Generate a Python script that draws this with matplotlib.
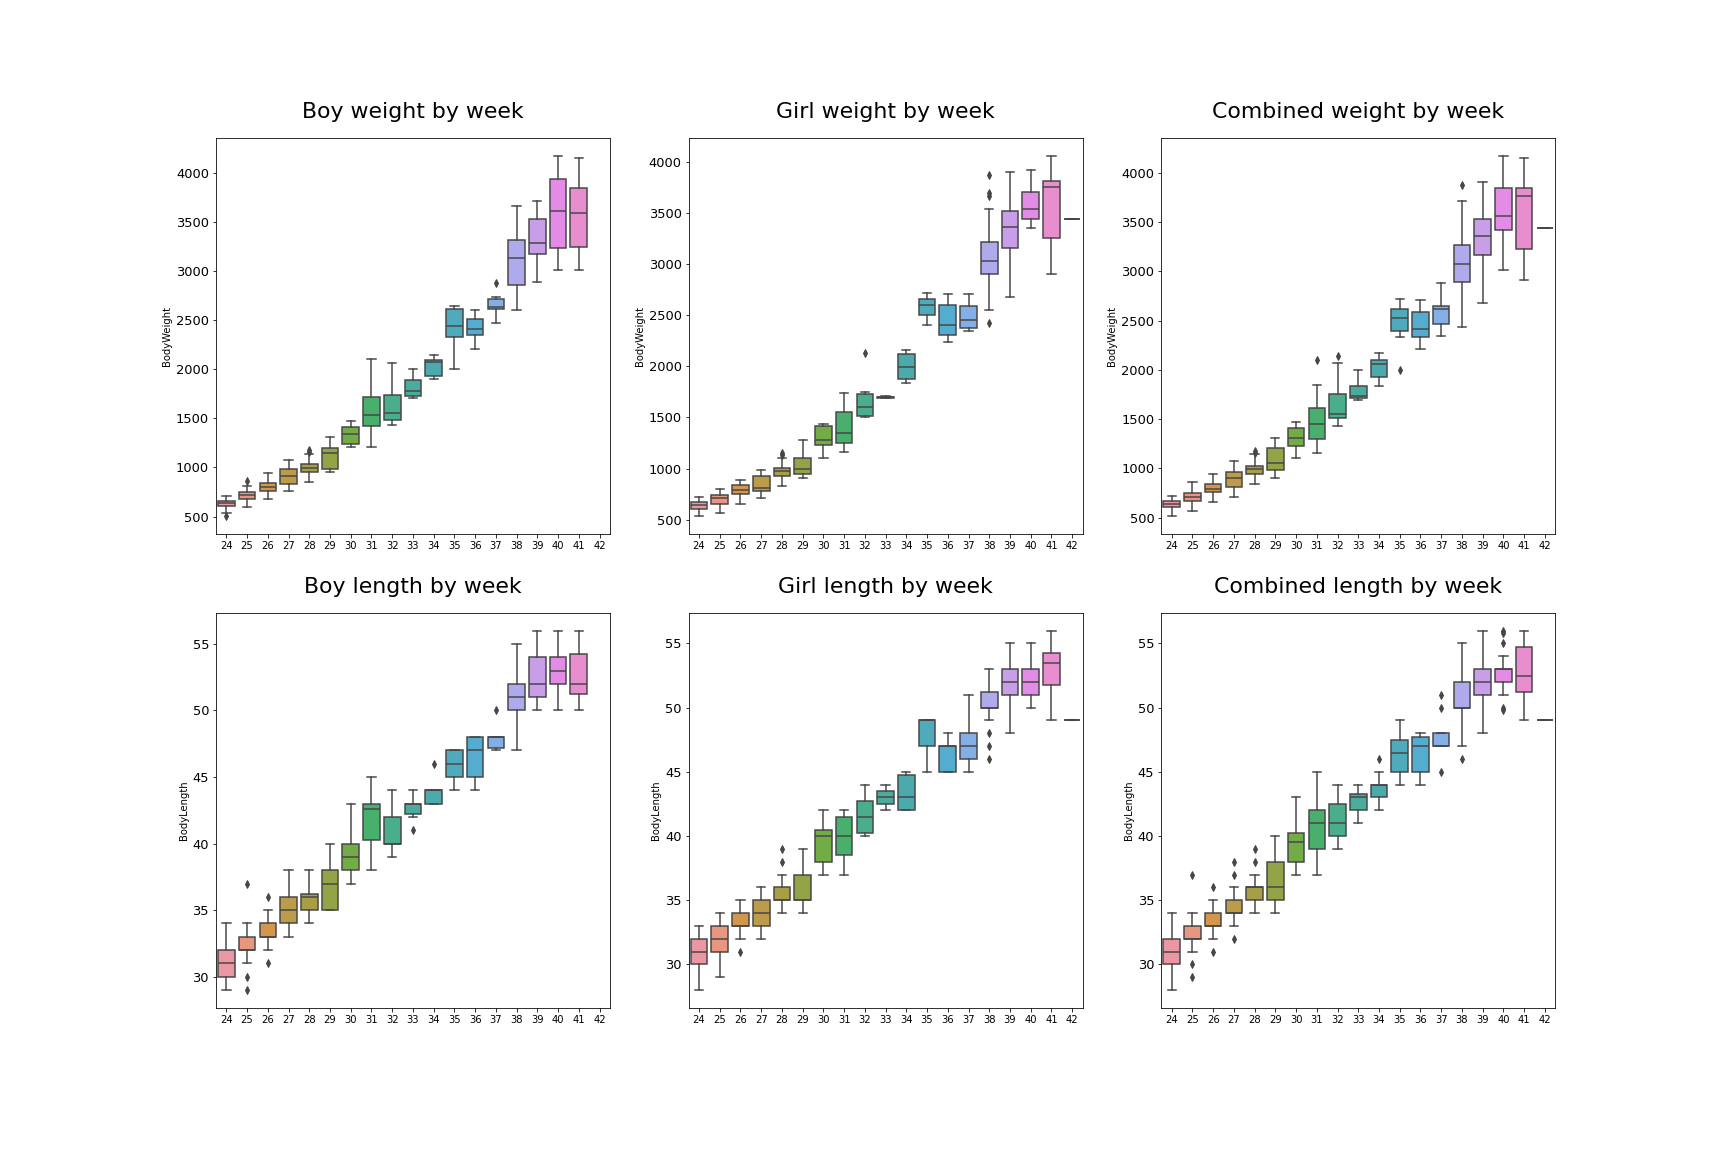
import colorsys
import matplotlib
matplotlib.use('Agg')
import matplotlib.pyplot as plt
import seaborn as sns

weeks = list(range(24, 43))

# (whislo, q1, median, q3, whishi) per week, None = no data
boy_weight = [
    (534, 611, 635, 662, 709), (595, 679, 723, 753, 814), (682, 760, 801, 845, 943),
    (757, 834, 915, 983, 1078), (855, 956, 993, 1034, 1142), (956, 983, 1152, 1203, 1311),
    (1209, 1240, 1345, 1409, 1473), (1209, 1422, 1534, 1716, 2101), (1432, 1480, 1554, 1743, 2067),
    (1706, 1723, 1777, 1895, 1999), (1899, 1936, 2071, 2091, 2142), (2007, 2331, 2436, 2615, 2648),
    (2209, 2351, 2412, 2513, 2608), (2473, 2615, 2638, 2716, 2736), (2605, 2858, 3135, 3314, 3658),
    (2888, 3172, 3287, 3527, 3713), (3010, 3236, 3611, 3932, 4169), (3010, 3243, 3588, 3844, 4155),
    None,
]
boy_weight_out = {24: [510], 25: [865], 28: [1160, 1175], 37: [2875]}

girl_weight = [
    (539, 607, 640, 669, 718), (568, 656, 712, 744, 803), (656, 754, 788, 835, 891),
    (708, 780, 812, 930, 988), (832, 930, 978, 1008, 1105), (904, 949, 995, 1102, 1281),
    (1105, 1232, 1281, 1421, 1437), (1158, 1252, 1346, 1555, 1743), (1509, 1516, 1600, 1730, 1753),
    (1690, 1695, 1700, 1705, 1712), (1838, 1880, 1997, 2121, 2163), (2407, 2502, 2606, 2661, 2720),
    (2238, 2307, 2404, 2600, 2710), (2342, 2375, 2453, 2590, 2710), (2554, 2905, 3029, 3215, 3537),
    (2681, 3159, 3364, 3521, 3908), (3355, 3439, 3540, 3706, 3921), (2905, 3257, 3755, 3820, 4058),
    (3445, 3445, 3445, 3445, 3445),
]
girl_weight_out = {28: [1135, 1150], 32: [2128], 38: [2424, 3670, 3700, 3875]}

all_weight = [
    (520, 611, 638, 672, 723), (571, 672, 713, 753, 865), (662, 760, 794, 845, 946),
    (713, 814, 899, 966, 1078), (845, 943, 990, 1027, 1142), (905, 983, 1057, 1206, 1311),
    (1105, 1230, 1311, 1409, 1473), (1159, 1301, 1446, 1615, 1844), (1432, 1513, 1554, 1753, 2067),
    (1692, 1716, 1733, 1838, 1999), (1838, 1929, 2061, 2101, 2172), (2331, 2392, 2523, 2615, 2716),
    (2209, 2331, 2412, 2584, 2706), (2341, 2466, 2621, 2645, 2878), (2432, 2888, 3071, 3263, 3713),
    (2675, 3162, 3358, 3527, 3912), (3010, 3419, 3560, 3851, 4169), (2909, 3226, 3760, 3851, 4155),
    (3445, 3445, 3445, 3445, 3445),
]
all_weight_out = {28: [1160, 1175], 31: [2098], 32: [2138], 35: [2003], 38: [3878]}

boy_length = [
    (29, 30, 31, 32, 34), (31, 32, 32, 33, 34), (32, 33, 33, 34, 35),
    (33, 34, 35, 36, 38), (34, 35, 36, 36.25, 38), (35, 35, 37, 38, 40),
    (37, 38, 39, 40, 43), (38, 40.3, 42.6, 43, 45), (39, 40, 40, 42, 44),
    (42, 42.25, 43, 43, 44), (43, 43, 44, 44, 44), (44, 45, 46, 47, 47),
    (44, 45, 47, 48, 48), (47, 47.2, 48, 48, 48), (47, 50, 51, 52, 55),
    (50, 51, 52, 54, 56), (50, 52, 53, 54, 56), (50, 51.25, 52, 54.25, 56),
    None,
]
boy_length_out = {25: [29, 30, 37], 26: [31, 36], 33: [41], 34: [46], 37: [50]}

girl_length = [
    (28, 30, 31, 32, 33), (29, 31, 32, 33, 34), (32, 33, 33, 34, 35),
    (32, 33, 34, 35, 36), (34, 35, 35, 36, 37), (34, 35, 35, 37, 39),
    (37, 38, 40, 40.5, 42), (37, 38.5, 40, 41.5, 42), (40, 40.25, 41.5, 42.75, 44),
    (42, 42.5, 43, 43.5, 44), (42, 42, 43, 44.75, 45), (45, 47, 49, 49, 49),
    (45, 45, 47, 47, 48), (45, 46, 47, 48, 51), (49, 50, 50, 51.25, 53),
    (48, 51, 52, 53, 55), (50, 51, 52, 53, 55), (49, 51.75, 53.5, 54.25, 56),
    (49, 49, 49, 49, 49),
]
girl_length_out = {26: [31], 28: [38, 39], 38: [46, 47, 48]}

all_length = [
    (28, 30, 31, 32, 34), (31, 32, 32, 33, 34), (32, 33, 33, 34, 35),
    (33, 34, 34, 35, 36), (34, 35, 36, 36, 37), (34, 35, 36, 38, 40),
    (37, 38, 39.55, 40.25, 43), (37, 39, 41, 42, 45), (39, 40, 41, 42.5, 44),
    (41, 42, 43, 43.3, 44), (42, 43, 44, 44, 45), (44, 45, 46.5, 47.5, 49),
    (44, 45, 47, 47.75, 48), (47, 47, 47, 48, 48), (47, 50, 50, 52, 55),
    (48, 51, 52, 53, 56), (51, 52, 53, 53, 54), (49, 51.25, 52.5, 54.75, 56),
    (49, 49, 49, 49, 49),
]
all_length_out = {25: [29, 30, 37], 26: [31, 36], 27: [32, 37, 38], 28: [38, 39],
                  34: [46], 37: [45, 50, 51], 38: [46], 40: [49.85, 50, 55, 55.85, 56]}

panels = [
    ('Boy weight by week', 'BodyWeight', boy_weight, boy_weight_out),
    ('Girl weight by week', 'BodyWeight', girl_weight, girl_weight_out),
    ('Combined weight by week', 'BodyWeight', all_weight, all_weight_out),
    ('Boy length by week', 'BodyLength', boy_length, boy_length_out),
    ('Girl length by week', 'BodyLength', girl_length, girl_length_out),
    ('Combined length by week', 'BodyLength', all_length, all_length_out),
]

# seaborn-style palette: husl, desaturated, with a dark gray for lines
colors = sns.color_palette(sns.husl_palette(len(weeks), l=.7), desat=.75)
lum = min(colorsys.rgb_to_hls(*c)[1] for c in colors) * .6
gray = (lum, lum, lum)

fig, axes = plt.subplots(2, 3, figsize=(24, 16), dpi=72)
fig.subplots_adjust(left=0.125, right=0.9, top=0.88, bottom=0.125, wspace=0.2, hspace=0.2)

for ax, (title, ylabel, boxes, outliers) in zip(axes.flat, panels):
    for i, wk in enumerate(weeks):
        b = boxes[i]
        if b is None:
            continue
        st = [{'whislo': b[0], 'q1': b[1], 'med': b[2], 'q3': b[3], 'whishi': b[4],
               'fliers': outliers.get(wk, [])}]
        art = ax.bxp(st, positions=[i], widths=0.8, patch_artist=True,
                     manage_ticks=False,
                     boxprops=dict(facecolor=colors[i], edgecolor=gray, linewidth=1.5),
                     whiskerprops=dict(color=gray, linewidth=1.5),
                     capprops=dict(color=gray, linewidth=1.5),
                     medianprops=dict(color=gray, linewidth=1.5),
                     flierprops=dict(marker='d', markerfacecolor=gray,
                                     markeredgecolor=gray, markersize=5, linestyle='none'))
        for p in art['boxes']:
            p.set_zorder(.9)
    ax.set_xticks(range(len(weeks)))
    ax.set_xticklabels([str(w) for w in weeks])
    ax.set_xlim(-0.5, len(weeks) - 0.5)
    ax.tick_params(axis='x', labelsize=10)
    ax.tick_params(axis='y', labelsize=13)
    ax.set_ylabel(ylabel, fontsize=10)
    ax.set_title(title, fontsize=22, pad=20)

fig.savefig('out.png', dpi=72)
